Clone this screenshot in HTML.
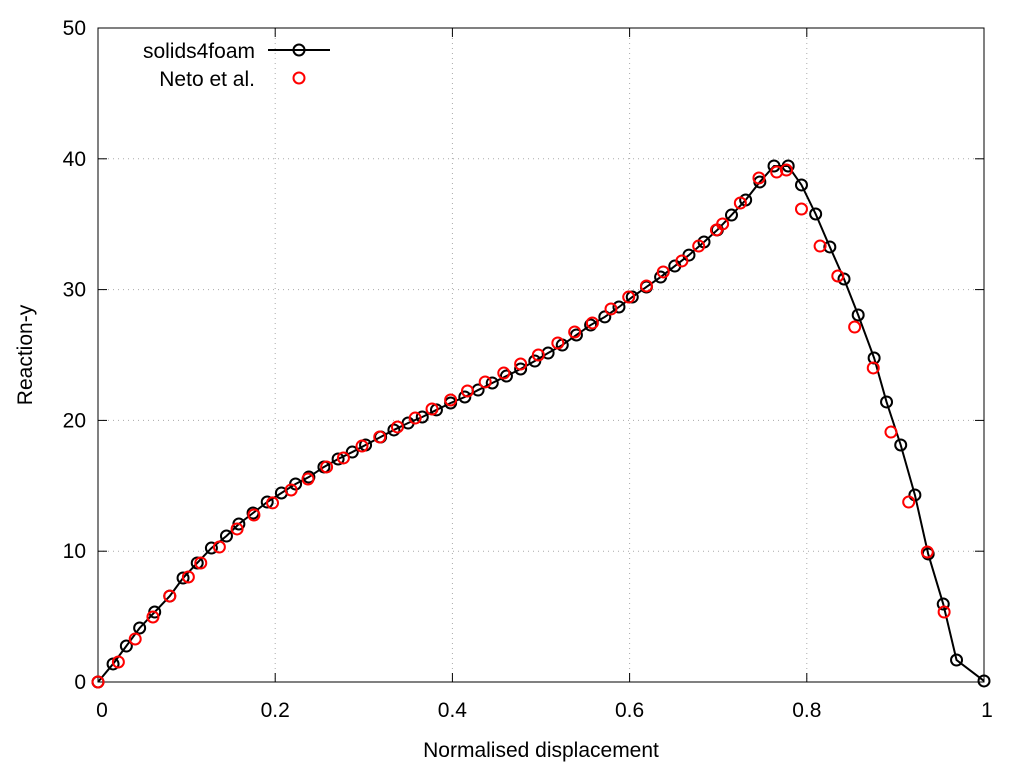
<!DOCTYPE html>
<html><head><meta charset="utf-8"><style>
body{margin:0;background:#fff;}
svg{display:block;font-family:"Liberation Sans",sans-serif;}
</style></head><body>
<svg id="chart" width="1024" height="768" viewBox="0 0 1024 768">
<rect width="1024" height="768" fill="#fff"/>
<g id="grid"></g><g id="axes"></g><g id="series"></g>
<text x="541" y="757" font-size="21" text-anchor="middle">Normalised displacement</text>
<text transform="translate(32,355) rotate(-90)" font-size="21" text-anchor="middle">Reaction-y</text>
<g>
<text x="255" y="58" font-size="21" text-anchor="end">solids4foam</text>
<line x1="268" y1="50" x2="330" y2="50" stroke="#000" stroke-width="2"/>
<circle cx="299" cy="50" r="5.5" fill="none" stroke="#000" stroke-width="2"/>
<text x="255" y="86" font-size="21" text-anchor="end">Neto et al.</text>
<circle cx="299" cy="78" r="5.5" fill="none" stroke="#f00" stroke-width="2"/>
</g>
</svg>
<script>
const xTicks=[0,0.2,0.4,0.6,0.8,1];
const xTickLabels=["0","0.2","0.4","0.6","0.8","1"];
const yTicks=[0,10,20,30,40,50];
const yTickLabels=["0","10","20","30","40","50"];
const s4fX=[0,.017,.032,.047,.064,.081,.096,.112,.128,.145,.159,.175,.191,.207,.223,.238,.255,.271,.287,.302,.319,.334,.350,.366,.382,.398,.414,.429,.445,.461,.477,.493,.508,.524,.540,.556,.572,.588,.603,.619,.635,.651,.667,.684,.699,.715,.731,.747,.763,.779,.794,.810,.826,.842,.858,.876,.890,.906,.922,.937,.954,.969,1.0];
const s4fY=[0,1.38,2.75,4.13,5.35,6.57,7.95,9.10,10.24,11.16,12.08,12.92,13.76,14.45,15.14,15.67,16.44,17.05,17.58,18.12,18.73,19.27,19.80,20.26,20.80,21.33,21.79,22.32,22.86,23.39,23.93,24.54,25.15,25.76,26.53,27.29,27.91,28.67,29.43,30.20,30.96,31.80,32.64,33.64,34.56,35.70,36.85,38.23,39.45,39.45,38.00,35.78,33.26,30.81,28.06,24.77,21.41,18.12,14.30,9.79,5.96,1.68,0.08];
const netoX=[0,.023,.042,.062,.081,.102,.116,.137,.157,.176,.197,.218,.237,.258,.277,.298,.318,.338,.358,.377,.398,.417,.437,.458,.477,.497,.519,.538,.558,.579,.599,.619,.638,.659,.678,.698,.705,.725,.746,.766,.777,.794,.815,.835,.854,.875,.895,.915,.936,.955];
const netoY=[0,1.53,3.29,4.97,6.57,8.03,9.10,10.32,11.70,12.77,13.69,14.68,15.52,16.44,17.13,18.04,18.73,19.50,20.18,20.87,21.56,22.25,22.94,23.62,24.31,25.00,25.92,26.76,27.45,28.52,29.43,30.28,31.35,32.19,33.33,34.56,35.02,36.62,38.53,38.99,39.14,36.16,33.33,31.04,27.14,24.01,19.11,13.76,9.94,5.35];
const L=98,R=984,T=28,B=682;
const sx=v=>L+(R-L)*v;
const sy=v=>B-(B-T)*v/50;
const NS="http://www.w3.org/2000/svg";
function mk(tag,attrs,parent){const e=document.createElementNS(NS,tag);for(const k in attrs)e.setAttribute(k,attrs[k]);parent.appendChild(e);return e;}
const grid=document.getElementById('grid'),axes=document.getElementById('axes'),ser=document.getElementById('series');
xTicks.forEach((t,i)=>{
 if(i>0&&i<xTicks.length-1){const g=mk('line',{x1:sx(t),x2:sx(t),y1:T,y2:B,stroke:'#aaa','stroke-width':1,'stroke-dasharray':'1,4'},grid);
 
 }
 const a=mk('line',{x1:sx(t),x2:sx(t),y1:B,y2:B-9,stroke:'#000','stroke-width':1},axes);
 
 
 const b=mk('line',{x1:sx(t),x2:sx(t),y1:T,y2:T+9,stroke:'#000','stroke-width':1},axes);
 
 
 const tx=mk('text',{x:sx(t)+(i==0?4:i==xTicks.length-1?3:0),y:717,'font-size':21,'text-anchor':'middle'},axes);
 tx.textContent=xTickLabels[i];
 
 
});
yTicks.forEach((t,i)=>{
 if(i>0&&i<yTicks.length-1){const g=mk('line',{x1:L,x2:R,y1:sy(t),y2:sy(t),stroke:'#aaa','stroke-width':1,'stroke-dasharray':'1,4'},grid);
 
 }
 const a=mk('line',{x1:L,x2:L+9,y1:sy(t),y2:sy(t),stroke:'#000','stroke-width':1},axes);
 
 
 const b=mk('line',{x1:R,x2:R-9,y1:sy(t),y2:sy(t),stroke:'#000','stroke-width':1},axes);
 
 
 const tx=mk('text',{x:86,y:sy(t)+7,'font-size':21,'text-anchor':'end'},axes);
 tx.textContent=yTickLabels[i];
 
 
});
const frame=mk('rect',{x:L,y:T,width:R-L,height:B-T,fill:'none',stroke:'#000','stroke-width':1},axes);


const line=mk('polyline',{points:s4fX.map((x,i)=>sx(x)+','+sy(s4fY[i])).join(' '),fill:'none',stroke:'#000','stroke-width':2},ser);


s4fX.forEach((x,i)=>{const c=mk('circle',{cx:sx(x),cy:sy(s4fY[i]),r:5.5,fill:'none',stroke:'#000','stroke-width':2},ser);
 
 });
netoX.forEach((x,i)=>{const c=mk('circle',{cx:sx(x),cy:sy(netoY[i]),r:5.5,fill:'none',stroke:'#f00','stroke-width':2},ser);
 
 });
</script>
</body></html>
